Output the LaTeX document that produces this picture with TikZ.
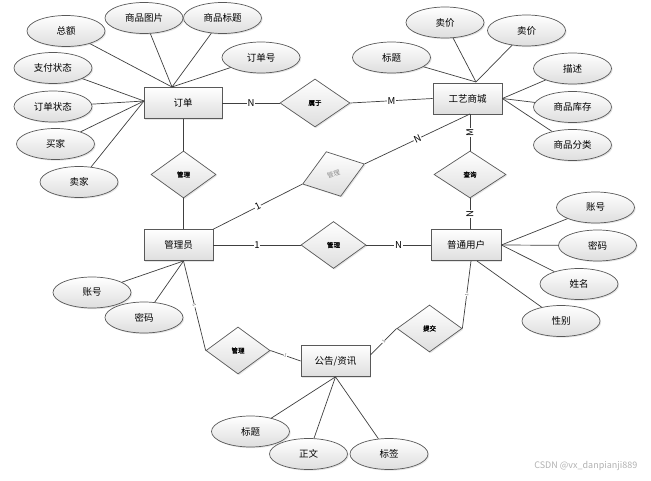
\documentclass[tikz,border=0pt]{standalone}
\usepackage{fontspec}
\setmainfont{Noto Sans CJK SC}[AutoFakeBold=1.6]
\usetikzlibrary{shapes.geometric,shadows}

\begin{document}
\begin{tikzpicture}[x=1pt,y=-1pt,
  line width=0.7pt,draw=black!75,
  boxshade/.style={draw=black!65,top color=white,bottom color=black!13,
    drop shadow={opacity=0.2,shadow xshift=1.2pt,shadow yshift=-1.2pt}},
  entity/.style={boxshade,rectangle,minimum width=69pt,minimum height=31pt,inner sep=0pt,
    font=\fontsize{9.5}{10}\selectfont},
  attr/.style={boxshade,ellipse,minimum width=78pt,minimum height=31pt,inner sep=0pt,
    font=\fontsize{9.5}{10}\selectfont},
  rel/.style={boxshade,diamond,minimum width=65pt,minimum height=47pt,inner sep=0pt,
    font=\fontsize{6.5}{7}\selectfont\bfseries},
  card/.style={fill=white,inner sep=0.6pt,font=\fontsize{9.5}{9.5}\selectfont},
  tick/.style={fill=white,inner sep=0.3pt,text=black!60,font=\fontsize{4.5}{4.5}\selectfont}]
\useasboundingbox[fill=white] (0,0) rectangle (651,481);

\node[entity,minimum width=78pt] (dingdan) at (183,103) {订单};
\node[entity] (shangcheng) at (467.5,98.5) {工艺商城};
\node[entity] (guanliyuan) at (178.5,245) {管理员};
\node[entity,minimum width=70pt] (yonghu) at (466,245) {普通用户};
\node[entity] (gonggao) at (335.5,361) {公告/资讯};

\node[rel,minimum width=70pt,minimum height=48pt] (shuyu) at (315,103) {属于};
\node[rel] (guanli1) at (183.5,174.5) {管理};
\node[rel,rotate=18,text=black!45,font=\fontsize{6.5}{7}\selectfont] (guanli2) at (333.5,174) {管理};
\node[rel,minimum width=72pt] (chaxun) at (470,174.5) {查询};
\node[rel] (guanli3) at (333.5,245) {管理};
\node[rel,minimum width=64pt] (guanli4) at (238,350.5) {管理};
\node[rel] (tijiao) at (429.5,328.5) {提交};

\node[attr] (zonge) at (66,31) {总额};
\node[attr] (tupian) at (144,18) {商品图片};
\node[attr] (biaoti) at (222.5,18) {商品标题};
\node[attr] (dingdanhao) at (261,57.5) {订单号};
\node[attr] (zhifu) at (53,68) {支付状态};
\node[attr] (zhuangtai) at (53,106.5) {订单状态};
\node[attr] (maijia) at (55.5,144) {买家};
\node[attr] (maijia2) at (79,182) {卖家};

\node[attr] (shoujia) at (445,22.5) {卖价};
\node[attr] (shoujia2) at (526.5,30.5) {卖价};
\node[attr] (scbiaoti) at (391.5,57.5) {标题};
\node[attr] (miaoshu) at (572.5,68.5) {描述};
\node[attr] (kucun) at (572.5,107) {商品库存};
\node[attr] (fenlei) at (572.5,145) {商品分类};

\node[attr] (yhzhanghao) at (595.5,207.5) {账号};
\node[attr] (yhmima) at (597.5,245.5) {密码};
\node[attr] (xingming) at (579,284) {姓名};
\node[attr] (xingbie) at (561,321) {性别};

\node[attr] (glzhanghao) at (92,292.5) {账号};
\node[attr] (glmima) at (144,317.5) {密码};

\node[attr] (ggbiaoti) at (250.5,431.5) {标题};
\node[attr] (zhengwen) at (308.5,454) {正文};
\node[attr] (biaoqian) at (389,454) {标签};

\coordinate (ddtop) at (172,87);
\coordinate (ddleft) at (144,101);
\coordinate (sctop) at (476,82);
\coordinate (scbot) at (470,114);
\coordinate (yhbot) at (471,261);
\coordinate (glbot) at (183.5,261);

\foreach \a in {zonge,tupian,biaoti,dingdanhao}
  \draw (\a) -- (ddtop);
\foreach \a in {zhifu,zhuangtai,maijia,maijia2}
  \draw (\a) -- (ddleft);
\foreach \a in {shoujia,shoujia2,scbiaoti}
  \draw (\a) -- (sctop);
\foreach \a in {miaoshu,kucun,fenlei}
  \draw (\a) -- (shangcheng.east);
\foreach \a in {yhzhanghao,yhmima,xingming}
  \draw (\a) -- (yonghu.east);
\draw (xingbie) -- (477,261);
\foreach \a in {glzhanghao,glmima}
  \draw (\a) -- (glbot);
\foreach \a in {ggbiaoti,zhengwen,biaoqian}
  \draw (\a) -- (gonggao.south);

\draw (dingdan.east) -- node[card] {N} (shuyu.west);
\draw (shuyu.east) -- node[card] {M} (shangcheng.west);
\draw (dingdan.south -| guanli1) -- (guanli1.north);
\draw (guanli1.south) -- (guanliyuan.north -| guanli1);
\draw (guanliyuan.north east) -- node[card,sloped] {1} (guanli2.west);
\draw (guanli2.east) -- node[card,sloped] {N} (scbot);
\draw (chaxun.north) -- node[card,sloped] {M} (scbot);
\draw (yonghu.north -| chaxun) -- node[card,sloped] {N} (chaxun.south);
\draw (guanliyuan.east) -- node[card] {1} (guanli3.west);
\draw (guanli3.east) -- node[card] {N} (yonghu.west);
\draw (glbot) -- node[tick,sloped] {1} (guanli4.west);
\draw (guanli4.east) -- node[tick,sloped] {1} (gonggao.west);
\draw ([yshift=6pt]gonggao.east) -- node[tick,sloped] {1} (tijiao.west);
\draw (tijiao.east) -- node[tick,sloped] {1} (yhbot);

\node[text=black!30,font=\fontsize{9}{9}\selectfont,anchor=east] (csdn) at (641,466) {CSDN @vx\_danpianji889};
\end{tikzpicture}
\end{document}
